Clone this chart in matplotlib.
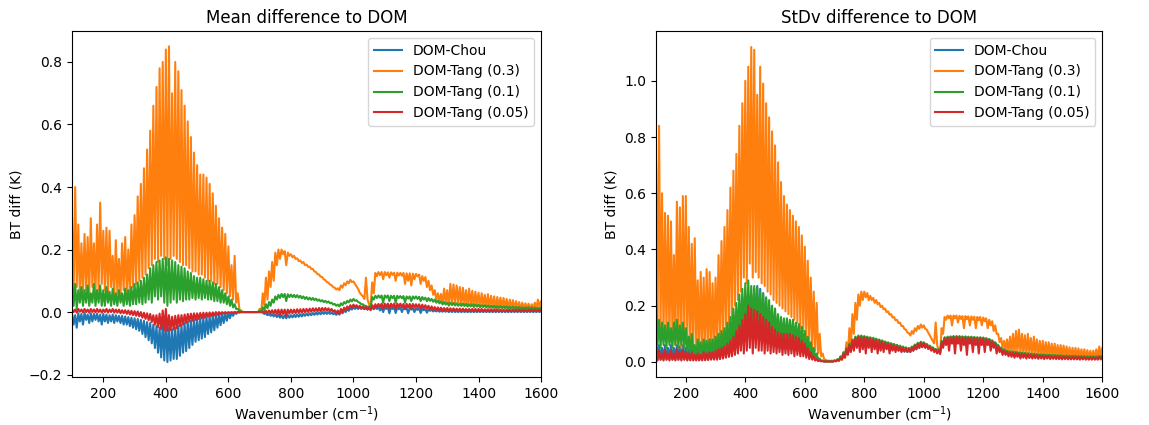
import numpy as np
import matplotlib
matplotlib.use('Agg')
import matplotlib.pyplot as plt

# wavenumber grid (cm-1); each series is given as upper/lower values of the
# fast line-by-line oscillation at every grid point
wavenumber = np.arange(100, 1601, 10)
labels = ['DOM-Chou', 'DOM-Tang (0.3)', 'DOM-Tang (0.1)', 'DOM-Tang (0.05)']

# ---------- mean difference ----------
mean_chou_hi = [
    -0.005, -0.01, -0.004, -0.006, -0.003, -0.008, -0.004, -0.006, -0.005, -0.008,
    -0.006, -0.008, -0.01, -0.008, -0.01, -0.012, -0.012, -0.014, -0.016, -0.018,
    -0.02, -0.022, -0.025, -0.028, -0.032, -0.035, -0.04, -0.045, -0.05, -0.04,
    -0.02, -0.05, -0.055, -0.05, -0.045, -0.04, -0.035, -0.03, -0.028, -0.025,
    -0.022, -0.02, -0.018, -0.016, -0.014, -0.012, -0.01, -0.008, -0.006, -0.004,
    -0.003, -0.002, -0.001, 0.0, 0.0, 0.0, 0.0, 0.0, 0.0, 0.0,
    0.0, -0.002, -0.004, -0.006, -0.007, -0.008, -0.009, -0.01, -0.01, -0.01,
    -0.01, -0.009, -0.008, -0.007, -0.006, -0.005, -0.004, -0.003, -0.002, -0.001,
    0.0, 0.0, 0.0, -0.001, -0.003, -0.002, 0.002, 0.006, 0.01, 0.013,
    0.015, 0.015, 0.015, 0.014, 0.014, 0.014, 0.015, 0.015, 0.015, 0.015,
    0.015, 0.015, 0.015, 0.014, 0.014, 0.014, 0.013, 0.013, 0.013, 0.012,
    0.012, 0.011, 0.01, 0.009, 0.008, 0.007, 0.006, 0.006, 0.005, 0.005,
    0.005, 0.005, 0.005, 0.004, 0.004, 0.004, 0.004, 0.004, 0.004, 0.004,
    0.004, 0.004, 0.004, 0.004, 0.004, 0.004, 0.004, 0.004, 0.004, 0.004,
    0.004, 0.004, 0.004, 0.004, 0.004, 0.004, 0.004, 0.004, 0.004, 0.004,
    0.004]
mean_chou_lo = [
    -0.04, -0.05, -0.03, -0.04, -0.025, -0.035, -0.03, -0.025, -0.03, -0.04,
    -0.03, -0.035, -0.03, -0.035, -0.03, -0.035, -0.04, -0.04, -0.045, -0.05,
    -0.055, -0.06, -0.07, -0.08, -0.09, -0.1, -0.115, -0.13, -0.145, -0.155,
    -0.16, -0.155, -0.15, -0.15, -0.14, -0.13, -0.125, -0.115, -0.105, -0.095,
    -0.09, -0.085, -0.08, -0.07, -0.065, -0.058, -0.05, -0.042, -0.035, -0.028,
    -0.02, -0.012, -0.006, -0.002, 0.0, 0.0, 0.0, 0.0, 0.0, 0.0,
    0.0, -0.006, -0.01, -0.012, -0.014, -0.016, -0.018, -0.02, -0.02, -0.018,
    -0.017, -0.016, -0.015, -0.014, -0.012, -0.011, -0.01, -0.009, -0.008, -0.007,
    -0.006, -0.006, -0.006, -0.007, -0.009, -0.008, -0.004, 0.0, 0.004, 0.008,
    0.01, 0.01, 0.01, 0.009, 0.008, 0.008, 0.009, 0.01, 0.005, 0.0,
    0.01, -0.004, 0.01, -0.003, 0.009, 0.0, 0.009, -0.004, 0.008, 0.0,
    0.007, -0.003, 0.006, -0.002, 0.004, 0.002, 0.002, 0.001, 0.001, 0.001,
    0.0, 0.0, 0.0, 0.0, 0.0, 0.0, 0.0, 0.0, 0.0, 0.0,
    0.0, 0.0, 0.0, 0.0, 0.0, 0.0, 0.0, 0.0, 0.0, 0.0,
    0.0, 0.0, 0.0, 0.0, 0.0, 0.0, 0.0, 0.0, 0.0, 0.0,
    0.0]
mean_tang03_hi = [
    0.30, 0.40, 0.28, 0.22, 0.25, 0.24, 0.30, 0.22, 0.28, 0.35,
    0.26, 0.27, 0.26, 0.18, 0.23, 0.17, 0.22, 0.24, 0.20, 0.28,
    0.31, 0.37, 0.41, 0.46, 0.52, 0.58, 0.66, 0.72, 0.78, 0.80,
    0.84, 0.85, 0.70, 0.80, 0.77, 0.71, 0.66, 0.61, 0.56, 0.51,
    0.47, 0.44, 0.44, 0.43, 0.41, 0.38, 0.34, 0.30, 0.27, 0.25,
    0.21, 0.15, 0.18, 0.06, 0.005, 0.0, 0.0, 0.0, 0.0, 0.0,
    0.01, 0.06, 0.11, 0.13, 0.16, 0.19, 0.20, 0.20, 0.195, 0.19,
    0.185, 0.18, 0.172, 0.165, 0.16, 0.152, 0.145, 0.138, 0.128, 0.12,
    0.112, 0.102, 0.094, 0.086, 0.078, 0.076, 0.085, 0.092, 0.098, 0.103,
    0.098, 0.082, 0.062, 0.05, 0.11, 0.025, 0.095, 0.125, 0.128, 0.128,
    0.128, 0.127, 0.127, 0.126, 0.126, 0.125, 0.125, 0.124, 0.124, 0.123,
    0.122, 0.12, 0.115, 0.112, 0.10, 0.085, 0.07, 0.06, 0.058, 0.075,
    0.07, 0.09, 0.088, 0.085, 0.08, 0.078, 0.07, 0.075, 0.068, 0.065,
    0.062, 0.06, 0.055, 0.057, 0.052, 0.05, 0.048, 0.046, 0.045, 0.042,
    0.04, 0.038, 0.035, 0.032, 0.03, 0.028, 0.027, 0.025, 0.03, 0.04,
    0.035]
mean_tang03_lo = [
    0.06, 0.08, 0.05, 0.06, 0.07, 0.05, 0.08, 0.06, 0.07, 0.09,
    0.07, 0.06, 0.08, 0.05, 0.06, 0.05, 0.07, 0.06, 0.05, 0.08,
    0.09, 0.10, 0.11, 0.12, 0.14, 0.15, 0.17, 0.16, 0.18, 0.17,
    0.15, 0.17, 0.18, 0.17, 0.16, 0.15, 0.15, 0.14, 0.13, 0.13,
    0.12, 0.12, 0.11, 0.10, 0.10, 0.09, 0.09, 0.08, 0.07, 0.06,
    0.05, 0.04, 0.03, 0.01, 0.0, 0.0, 0.0, 0.0, 0.0, 0.0,
    0.0, 0.02, 0.04, 0.08, 0.10, 0.15, 0.17, 0.185, 0.15, 0.18,
    0.175, 0.17, 0.163, 0.157, 0.15, 0.145, 0.138, 0.13, 0.121, 0.113,
    0.105, 0.096, 0.088, 0.08, 0.072, 0.07, 0.078, 0.086, 0.092, 0.096,
    0.09, 0.074, 0.056, 0.042, 0.04, 0.018, 0.06, 0.115, 0.118, 0.105,
    0.118, 0.11, 0.119, 0.10, 0.117, 0.116, 0.09, 0.1, 0.085, 0.105,
    0.114, 0.09, 0.1, 0.08, 0.07, 0.055, 0.04, 0.035, 0.025, 0.03,
    0.02, 0.03, 0.025, 0.03, 0.02, 0.025, 0.018, 0.022, 0.015, 0.02,
    0.015, 0.018, 0.015, 0.014, 0.016, 0.012, 0.014, 0.012, 0.013, 0.011,
    0.012, 0.01, 0.011, 0.01, 0.01, 0.011, 0.009, 0.01, 0.012, 0.015,
    0.02]
mean_tang01_hi = [
    0.10, 0.09, 0.07, 0.08, 0.07, 0.085, 0.06, 0.09, 0.07, 0.085,
    0.07, 0.08, 0.065, 0.075, 0.06, 0.07, 0.06, 0.075, 0.07, 0.08,
    0.09, 0.095, 0.10, 0.11, 0.12, 0.14, 0.15, 0.16, 0.165, 0.17,
    0.175, 0.17, 0.165, 0.16, 0.15, 0.145, 0.14, 0.13, 0.125, 0.115,
    0.11, 0.11, 0.105, 0.10, 0.10, 0.095, 0.09, 0.08, 0.07, 0.06,
    0.05, 0.04, 0.025, 0.01, 0.002, 0.0, 0.0, 0.0, 0.0, 0.0,
    0.005, 0.015, 0.025, 0.032, 0.04, 0.05, 0.055, 0.058, 0.058, 0.057,
    0.056, 0.055, 0.054, 0.052, 0.05, 0.048, 0.046, 0.045, 0.043, 0.04,
    0.038, 0.036, 0.034, 0.03, 0.026, 0.024, 0.028, 0.032, 0.036, 0.04,
    0.042, 0.038, 0.03, 0.025, 0.02, 0.018, 0.048, 0.052, 0.053, 0.053,
    0.053, 0.053, 0.052, 0.052, 0.052, 0.051, 0.051, 0.05, 0.05, 0.05,
    0.05, 0.049, 0.048, 0.046, 0.045, 0.042, 0.04, 0.037, 0.034, 0.032,
    0.03, 0.03, 0.029, 0.028, 0.027, 0.027, 0.026, 0.025, 0.025, 0.024,
    0.023, 0.022, 0.022, 0.021, 0.02, 0.02, 0.019, 0.019, 0.018, 0.018,
    0.017, 0.017, 0.016, 0.016, 0.015, 0.015, 0.015, 0.015, 0.014, 0.014,
    0.014]
mean_tang01_lo = [
    0.02, 0.01, 0.03, 0.02, 0.03, 0.02, 0.03, 0.02, 0.03, 0.02,
    0.02, 0.03, 0.02, 0.025, 0.02, 0.03, 0.02, 0.025, 0.02, 0.025,
    0.025, 0.03, 0.025, 0.03, 0.04, 0.03, 0.05, 0.04, 0.05, 0.03,
    0.02, 0.03, 0.04, 0.03, 0.04, 0.035, 0.04, 0.04, 0.045, 0.04,
    0.045, 0.04, 0.045, 0.04, 0.04, 0.035, 0.035, 0.03, 0.03, 0.025,
    0.02, 0.015, 0.01, 0.004, 0.001, 0.0, 0.0, 0.0, 0.0, 0.0,
    0.0, 0.006, 0.012, 0.02, 0.03, 0.04, 0.045, 0.048, 0.035, 0.048,
    0.048, 0.047, 0.046, 0.044, 0.042, 0.04, 0.039, 0.038, 0.036, 0.034,
    0.032, 0.03, 0.028, 0.024, 0.02, 0.018, 0.022, 0.027, 0.031, 0.034,
    0.036, 0.032, 0.025, 0.02, 0.016, 0.014, 0.04, 0.045, 0.046, 0.03,
    0.046, 0.035, 0.045, 0.03, 0.045, 0.044, 0.03, 0.043, 0.035, 0.043,
    0.042, 0.035, 0.04, 0.035, 0.036, 0.033, 0.03, 0.028, 0.025, 0.024,
    0.022, 0.022, 0.021, 0.02, 0.02, 0.019, 0.018, 0.018, 0.017, 0.017,
    0.016, 0.016, 0.015, 0.015, 0.014, 0.014, 0.013, 0.013, 0.013, 0.012,
    0.012, 0.012, 0.011, 0.011, 0.011, 0.011, 0.01, 0.01, 0.01, 0.01,
    0.01]
mean_tang005_hi = [
    0.01, 0.008, 0.01, 0.008, 0.01, 0.008, 0.01, 0.008, 0.01, 0.008,
    0.008, 0.01, 0.008, 0.01, 0.008, 0.008, 0.006, 0.006, 0.005, 0.004,
    0.003, 0.002, 0.0, -0.002, -0.004, -0.006, -0.01, -0.01, -0.005, 0.005,
    0.01, -0.01, -0.015, -0.012, -0.01, -0.01, -0.008, -0.006, -0.005, -0.004,
    -0.004, -0.003, -0.002, -0.002, -0.001, -0.001, 0.0, 0.0, 0.0, 0.0,
    0.0, 0.0, 0.0, 0.0, 0.0, 0.0, 0.0, 0.0, 0.0, 0.0,
    0.0, 0.002, 0.004, 0.005, 0.006, 0.007, 0.008, 0.008, 0.008, 0.008,
    0.008, 0.008, 0.009, 0.009, 0.01, 0.01, 0.011, 0.012, 0.012, 0.013,
    0.013, 0.013, 0.012, 0.01, 0.006, 0.005, 0.01, 0.014, 0.018, 0.022,
    0.024, 0.022, 0.02, 0.018, 0.016, 0.015, 0.022, 0.025, 0.026, 0.027,
    0.027, 0.027, 0.027, 0.027, 0.027, 0.027, 0.026, 0.026, 0.026, 0.026,
    0.025, 0.025, 0.024, 0.022, 0.02, 0.018, 0.016, 0.015, 0.014, 0.013,
    0.013, 0.012, 0.012, 0.011, 0.011, 0.011, 0.01, 0.01, 0.01, 0.01,
    0.01, 0.01, 0.009, 0.009, 0.009, 0.009, 0.009, 0.008, 0.008, 0.008,
    0.008, 0.008, 0.008, 0.008, 0.008, 0.008, 0.008, 0.008, 0.008, 0.008,
    0.008]
mean_tang005_lo = [
    0.0, -0.002, 0.001, -0.001, 0.0, -0.002, 0.0, -0.001, 0.0, -0.002,
    0.0, -0.002, 0.0, -0.002, -0.002, -0.004, -0.004, -0.006, -0.008, -0.01,
    -0.012, -0.014, -0.018, -0.022, -0.026, -0.032, -0.04, -0.048, -0.055, -0.058,
    -0.06, -0.058, -0.056, -0.052, -0.045, -0.04, -0.035, -0.03, -0.028, -0.025,
    -0.022, -0.02, -0.018, -0.015, -0.013, -0.011, -0.009, -0.007, -0.005, -0.004,
    -0.003, -0.002, -0.001, 0.0, 0.0, 0.0, 0.0, 0.0, 0.0, 0.0,
    0.0, -0.002, -0.003, -0.004, -0.005, -0.006, -0.01, -0.006, -0.012, -0.005,
    -0.004, -0.004, -0.003, -0.002, -0.001, 0.0, 0.001, 0.002, 0.002, 0.003,
    0.004, 0.004, 0.003, 0.001, -0.004, -0.006, 0.0, 0.006, 0.01, 0.014,
    0.016, 0.014, 0.012, 0.01, 0.008, 0.006, 0.012, 0.015, 0.016, 0.01,
    0.016, 0.012, 0.016, 0.01, 0.016, 0.015, 0.01, 0.015, 0.012, 0.014,
    0.014, 0.01, 0.012, 0.01, 0.008, 0.007, 0.005, 0.005, 0.004, 0.004,
    0.003, 0.004, 0.003, 0.003, 0.003, 0.003, 0.002, 0.003, 0.002, 0.002,
    0.002, 0.002, 0.002, 0.002, 0.002, 0.002, 0.002, 0.002, 0.002, 0.002,
    0.002, 0.002, 0.002, 0.002, 0.002, 0.002, 0.002, 0.002, 0.002, 0.002,
    0.002]

# ---------- standard deviation difference ----------
std_chou_hi = [
    0.08, 0.06, 0.05, 0.06, 0.05, 0.06, 0.05, 0.06, 0.055, 0.06,
    0.05, 0.045, 0.05, 0.04, 0.045, 0.04, 0.045, 0.045, 0.05, 0.05,
    0.055, 0.06, 0.07, 0.08, 0.09, 0.1, 0.12, 0.15, 0.18, 0.2,
    0.22, 0.2, 0.24, 0.26, 0.27, 0.26, 0.245, 0.225, 0.2, 0.18,
    0.165, 0.155, 0.14, 0.135, 0.135, 0.14, 0.135, 0.125, 0.115, 0.105,
    0.09, 0.075, 0.055, 0.04, 0.025, 0.01, 0.004, 0.002, 0.002, 0.002,
    0.004, 0.008, 0.018, 0.032, 0.047, 0.062, 0.077, 0.087, 0.09, 0.09,
    0.089, 0.087, 0.085, 0.083, 0.08, 0.077, 0.074, 0.07, 0.067, 0.064,
    0.061, 0.058, 0.055, 0.052, 0.05, 0.048, 0.053, 0.06, 0.066, 0.07,
    0.068, 0.062, 0.056, 0.05, 0.045, 0.043, 0.073, 0.086, 0.088, 0.089,
    0.09, 0.09, 0.09, 0.089, 0.089, 0.088, 0.088, 0.087, 0.086, 0.086,
    0.085, 0.083, 0.08, 0.075, 0.068, 0.058, 0.048, 0.043, 0.038, 0.036,
    0.035, 0.034, 0.032, 0.031, 0.03, 0.029, 0.028, 0.027, 0.026, 0.025,
    0.025, 0.024, 0.024, 0.023, 0.023, 0.022, 0.022, 0.021, 0.021, 0.02,
    0.02, 0.02, 0.019, 0.019, 0.019, 0.018, 0.018, 0.018, 0.018, 0.02,
    0.02]
std_chou_lo = [
    0.01, 0.008, 0.01, 0.008, 0.01, 0.008, 0.01, 0.008, 0.01, 0.008,
    0.008, 0.006, 0.008, 0.006, 0.008, 0.006, 0.008, 0.008, 0.01, 0.01,
    0.012, 0.014, 0.016, 0.02, 0.025, 0.03, 0.04, 0.05, 0.06, 0.07,
    0.08, 0.09, 0.09, 0.09, 0.085, 0.08, 0.075, 0.07, 0.065, 0.06,
    0.055, 0.05, 0.05, 0.045, 0.045, 0.045, 0.04, 0.04, 0.035, 0.03,
    0.025, 0.018, 0.012, 0.008, 0.005, 0.003, 0.002, 0.002, 0.002, 0.002,
    0.003, 0.005, 0.01, 0.02, 0.03, 0.04, 0.05, 0.055, 0.06, 0.062,
    0.062, 0.06, 0.058, 0.056, 0.054, 0.052, 0.05, 0.048, 0.046, 0.044,
    0.042, 0.04, 0.038, 0.036, 0.035, 0.035, 0.04, 0.045, 0.05, 0.053,
    0.052, 0.048, 0.043, 0.038, 0.034, 0.033, 0.055, 0.065, 0.068, 0.07,
    0.07, 0.07, 0.07, 0.069, 0.069, 0.068, 0.068, 0.067, 0.066, 0.066,
    0.065, 0.063, 0.06, 0.055, 0.05, 0.042, 0.035, 0.03, 0.027, 0.025,
    0.024, 0.023, 0.022, 0.021, 0.02, 0.02, 0.019, 0.018, 0.018, 0.017,
    0.017, 0.016, 0.016, 0.016, 0.015, 0.015, 0.015, 0.014, 0.014, 0.014,
    0.014, 0.014, 0.013, 0.013, 0.013, 0.013, 0.013, 0.013, 0.013, 0.014,
    0.014]
std_tang03_hi = [
    0.70, 0.84, 0.60, 0.53, 0.52, 0.50, 0.38, 0.57, 0.55, 0.59,
    0.59, 0.48, 0.42, 0.44, 0.29, 0.32, 0.30, 0.33, 0.32, 0.28,
    0.30, 0.38, 0.43, 0.48, 0.54, 0.62, 0.68, 0.74, 0.84, 0.92,
    1.00, 1.05, 1.12, 1.11, 0.95, 1.05, 0.99, 0.92, 0.87, 0.82,
    0.77, 0.71, 0.64, 0.59, 0.56, 0.54, 0.52, 0.50, 0.48, 0.45,
    0.41, 0.36, 0.30, 0.25, 0.21, 0.10, 0.03, 0.008, 0.005, 0.005,
    0.006, 0.008, 0.012, 0.03, 0.07, 0.12, 0.17, 0.21, 0.24, 0.25,
    0.25, 0.245, 0.235, 0.228, 0.22, 0.21, 0.20, 0.19, 0.18, 0.17,
    0.16, 0.15, 0.14, 0.128, 0.115, 0.102, 0.11, 0.12, 0.128, 0.133,
    0.13, 0.115, 0.095, 0.075, 0.14, 0.04, 0.12, 0.16, 0.165, 0.165,
    0.165, 0.165, 0.164, 0.163, 0.163, 0.162, 0.162, 0.161, 0.16, 0.16,
    0.158, 0.155, 0.15, 0.145, 0.13, 0.10, 0.085, 0.075, 0.08, 0.09,
    0.10, 0.11, 0.115, 0.10, 0.095, 0.10, 0.085, 0.09, 0.08, 0.075,
    0.075, 0.07, 0.07, 0.065, 0.065, 0.06, 0.06, 0.058, 0.055, 0.052,
    0.05, 0.05, 0.048, 0.045, 0.045, 0.042, 0.04, 0.04, 0.045, 0.055,
    0.05]
std_tang03_lo = [
    0.15, 0.12, 0.08, 0.10, 0.07, 0.09, 0.06, 0.08, 0.05, 0.09,
    0.07, 0.05, 0.04, 0.06, 0.03, 0.05, 0.04, 0.05, 0.04, 0.05,
    0.06, 0.07, 0.09, 0.10, 0.13, 0.15, 0.20, 0.22, 0.25, 0.30,
    0.28, 0.35, 0.30, 0.32, 0.30, 0.28, 0.27, 0.25, 0.24, 0.22,
    0.21, 0.20, 0.19, 0.18, 0.17, 0.16, 0.15, 0.14, 0.12, 0.11,
    0.09, 0.07, 0.05, 0.04, 0.03, 0.02, 0.01, 0.004, 0.003, 0.003,
    0.004, 0.005, 0.008, 0.015, 0.03, 0.06, 0.10, 0.15, 0.20, 0.22,
    0.23, 0.22, 0.22, 0.21, 0.205, 0.195, 0.187, 0.177, 0.168, 0.158,
    0.148, 0.138, 0.128, 0.117, 0.105, 0.094, 0.10, 0.11, 0.118, 0.122,
    0.118, 0.104, 0.085, 0.066, 0.06, 0.03, 0.10, 0.15, 0.155, 0.13,
    0.155, 0.14, 0.153, 0.12, 0.152, 0.13, 0.15, 0.12, 0.148, 0.13,
    0.145, 0.12, 0.13, 0.11, 0.10, 0.07, 0.05, 0.04, 0.035, 0.03,
    0.03, 0.035, 0.03, 0.03, 0.025, 0.03, 0.025, 0.025, 0.022, 0.022,
    0.02, 0.022, 0.02, 0.02, 0.018, 0.02, 0.018, 0.018, 0.016, 0.016,
    0.016, 0.015, 0.015, 0.015, 0.014, 0.014, 0.014, 0.014, 0.015, 0.02,
    0.02]
std_tang01_hi = [
    0.22, 0.15, 0.14, 0.13, 0.14, 0.12, 0.14, 0.15, 0.13, 0.14,
    0.12, 0.09, 0.10, 0.06, 0.08, 0.07, 0.08, 0.075, 0.08, 0.08,
    0.09, 0.10, 0.11, 0.12, 0.14, 0.16, 0.19, 0.21, 0.24, 0.26,
    0.28, 0.29, 0.27, 0.27, 0.265, 0.25, 0.24, 0.23, 0.22, 0.20,
    0.19, 0.17, 0.16, 0.155, 0.155, 0.15, 0.15, 0.14, 0.135, 0.125,
    0.11, 0.09, 0.07, 0.05, 0.03, 0.012, 0.005, 0.003, 0.003, 0.003,
    0.005, 0.01, 0.02, 0.035, 0.05, 0.065, 0.08, 0.09, 0.094, 0.094,
    0.092, 0.09, 0.088, 0.086, 0.083, 0.08, 0.077, 0.073, 0.07, 0.067,
    0.064, 0.061, 0.058, 0.055, 0.052, 0.05, 0.055, 0.062, 0.068, 0.072,
    0.07, 0.064, 0.058, 0.052, 0.046, 0.045, 0.075, 0.088, 0.09, 0.091,
    0.092, 0.092, 0.092, 0.091, 0.091, 0.09, 0.09, 0.089, 0.088, 0.088,
    0.087, 0.085, 0.082, 0.077, 0.07, 0.06, 0.05, 0.045, 0.04, 0.038,
    0.037, 0.036, 0.034, 0.033, 0.032, 0.031, 0.03, 0.029, 0.028, 0.027,
    0.027, 0.026, 0.026, 0.025, 0.025, 0.024, 0.024, 0.023, 0.023, 0.022,
    0.022, 0.022, 0.021, 0.021, 0.021, 0.02, 0.02, 0.02, 0.02, 0.022,
    0.022]
std_tang01_lo = [
    0.06, 0.05, 0.06, 0.05, 0.06, 0.05, 0.06, 0.05, 0.06, 0.05,
    0.04, 0.03, 0.03, 0.02, 0.03, 0.02, 0.03, 0.025, 0.03, 0.03,
    0.03, 0.035, 0.04, 0.045, 0.05, 0.06, 0.07, 0.08, 0.09, 0.10,
    0.10, 0.12, 0.12, 0.12, 0.12, 0.11, 0.11, 0.10, 0.10, 0.09,
    0.09, 0.08, 0.08, 0.075, 0.075, 0.07, 0.07, 0.065, 0.06, 0.055,
    0.045, 0.035, 0.025, 0.015, 0.008, 0.004, 0.002, 0.002, 0.002, 0.002,
    0.003, 0.006, 0.012, 0.025, 0.04, 0.055, 0.07, 0.08, 0.085, 0.085,
    0.084, 0.082, 0.08, 0.078, 0.075, 0.072, 0.069, 0.066, 0.063, 0.06,
    0.057, 0.054, 0.051, 0.048, 0.045, 0.043, 0.048, 0.055, 0.061, 0.065,
    0.063, 0.057, 0.051, 0.046, 0.04, 0.038, 0.068, 0.08, 0.082, 0.083,
    0.084, 0.084, 0.084, 0.083, 0.083, 0.082, 0.082, 0.081, 0.08, 0.08,
    0.079, 0.077, 0.074, 0.069, 0.062, 0.052, 0.043, 0.038, 0.034, 0.032,
    0.031, 0.03, 0.028, 0.027, 0.026, 0.025, 0.024, 0.024, 0.023, 0.022,
    0.022, 0.021, 0.021, 0.02, 0.02, 0.019, 0.019, 0.018, 0.018, 0.018,
    0.017, 0.017, 0.017, 0.016, 0.016, 0.016, 0.016, 0.016, 0.016, 0.017,
    0.017]
std_tang005_hi = [
    0.05, 0.04, 0.03, 0.045, 0.03, 0.04, 0.03, 0.045, 0.035, 0.04,
    0.035, 0.03, 0.035, 0.025, 0.03, 0.025, 0.035, 0.03, 0.035, 0.035,
    0.04, 0.045, 0.05, 0.055, 0.065, 0.075, 0.09, 0.11, 0.13, 0.15,
    0.17, 0.20, 0.19, 0.185, 0.18, 0.17, 0.16, 0.15, 0.14, 0.125,
    0.115, 0.105, 0.10, 0.10, 0.10, 0.10, 0.095, 0.09, 0.085, 0.075,
    0.065, 0.05, 0.035, 0.02, 0.01, 0.005, 0.003, 0.002, 0.002, 0.002,
    0.004, 0.007, 0.015, 0.03, 0.045, 0.06, 0.075, 0.085, 0.088, 0.088,
    0.087, 0.085, 0.083, 0.081, 0.078, 0.075, 0.072, 0.068, 0.065, 0.062,
    0.059, 0.056, 0.053, 0.05, 0.048, 0.046, 0.051, 0.058, 0.064, 0.068,
    0.066, 0.06, 0.054, 0.048, 0.043, 0.041, 0.07, 0.084, 0.086, 0.087,
    0.088, 0.088, 0.088, 0.087, 0.087, 0.086, 0.086, 0.085, 0.084, 0.084,
    0.083, 0.081, 0.078, 0.073, 0.066, 0.056, 0.046, 0.041, 0.036, 0.034,
    0.033, 0.032, 0.03, 0.029, 0.028, 0.027, 0.026, 0.025, 0.024, 0.023,
    0.023, 0.022, 0.022, 0.021, 0.021, 0.02, 0.02, 0.019, 0.019, 0.018,
    0.018, 0.018, 0.017, 0.017, 0.017, 0.016, 0.016, 0.016, 0.016, 0.018,
    0.018]
std_tang005_lo = [
    0.005, 0.008, 0.005, 0.008, 0.005, 0.008, 0.005, 0.008, 0.005, 0.008,
    0.005, 0.006, 0.005, 0.006, 0.005, 0.006, 0.006, 0.007, 0.008, 0.008,
    0.008, 0.01, 0.012, 0.015, 0.018, 0.02, 0.025, 0.03, 0.04, 0.03,
    0.04, 0.05, 0.03, 0.05, 0.04, 0.04, 0.03, 0.04, 0.03, 0.035,
    0.03, 0.035, 0.025, 0.03, 0.025, 0.03, 0.02, 0.025, 0.02, 0.02,
    0.015, 0.01, 0.008, 0.005, 0.003, 0.002, 0.001, 0.001, 0.001, 0.001,
    0.002, 0.004, 0.008, 0.015, 0.025, 0.035, 0.04, 0.05, 0.035, 0.045,
    0.03, 0.05, 0.035, 0.045, 0.03, 0.04, 0.035, 0.045, 0.03, 0.04,
    0.035, 0.04, 0.035, 0.038, 0.036, 0.036, 0.04, 0.045, 0.05, 0.052,
    0.05, 0.046, 0.04, 0.035, 0.03, 0.028, 0.05, 0.06, 0.04, 0.065,
    0.03, 0.065, 0.04, 0.06, 0.025, 0.065, 0.035, 0.06, 0.03, 0.06,
    0.035, 0.06, 0.04, 0.05, 0.03, 0.035, 0.025, 0.025, 0.02, 0.018,
    0.015, 0.018, 0.012, 0.015, 0.012, 0.014, 0.012, 0.013, 0.011, 0.012,
    0.01, 0.012, 0.01, 0.011, 0.01, 0.01, 0.009, 0.01, 0.009, 0.009,
    0.009, 0.009, 0.008, 0.009, 0.008, 0.008, 0.008, 0.008, 0.008, 0.009,
    0.009]


def zigzag(hi, lo):
    # alternate upper and lower values half a grid step apart
    x = np.column_stack([wavenumber, wavenumber + 5]).ravel()
    y = np.column_stack([hi, lo]).ravel()
    return x, y


fig = plt.figure(figsize=(11.49, 4.25), dpi=100)
ax1 = fig.add_axes([0.0627, 0.112, 0.4082, 0.815])
ax2 = fig.add_axes([0.5710, 0.112, 0.3883, 0.815])

mean_series = [(mean_chou_hi, mean_chou_lo), (mean_tang03_hi, mean_tang03_lo),
               (mean_tang01_hi, mean_tang01_lo), (mean_tang005_hi, mean_tang005_lo)]
std_series = [(std_chou_hi, std_chou_lo), (std_tang03_hi, std_tang03_lo),
              (std_tang01_hi, std_tang01_lo), (std_tang005_hi, std_tang005_lo)]

for ax, series, title, ylim in [(ax1, mean_series, 'Mean difference to DOM', (-0.209, 0.899)),
                                 (ax2, std_series, 'StDv difference to DOM', (-0.055, 1.177))]:
    for (hi, lo), lab in zip(series, labels):
        x, y = zigzag(hi, lo)
        ax.plot(x, y, linewidth=1.5, label=lab)
    ax.set_xlim(100, 1600)
    ax.set_ylim(*ylim)
    ax.set_title(title)
    ax.set_xlabel('Wavenumber (cm$^{-1}$)', labelpad=2)
    ax.set_ylabel('BT diff (K)')
    ax.legend(loc='upper right')

fig.savefig('out.png', dpi=100)
